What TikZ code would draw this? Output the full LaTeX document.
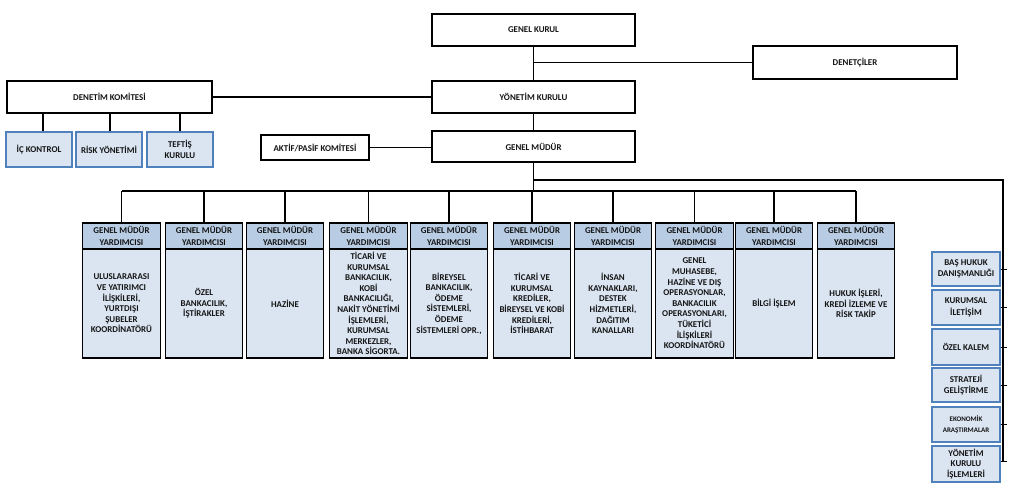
\documentclass[tikz,border=0pt]{standalone}
\usepackage{fontspec}
\setmainfont{Carlito}
\definecolor{hdr}{HTML}{B8CCE4}
\definecolor{bdy}{HTML}{DBE5F1}
\definecolor{bbl}{HTML}{4F81BD}
\definecolor{txt}{HTML}{141414}
\begin{document}
\begin{tikzpicture}[x=1pt,y=-1pt,
  every node/.style={font=\fontsize{8.9}{11.5}\selectfont\bfseries, text=txt, align=center, inner sep=0pt},
  topbox/.style={draw=black, line width=1.2pt, fill=white, minimum width=203pt, minimum height=32pt},
  subbox/.style={draw=bbl, line width=1.1pt, fill=bdy, minimum width=66pt, minimum height=35pt},
  hdrbox/.style={draw=black, line width=1.1pt, fill=hdr, minimum width=77.5pt, minimum height=26pt},
  bdybox/.style={draw=black, line width=1.1pt, fill=bdy, minimum width=77.5pt, minimum height=109pt, font=\fontsize{8.9}{10.6}\selectfont\bfseries},
  rbox/.style={draw=bbl, line width=1.1pt, fill=bdy, minimum width=68pt},
  conn/.style={draw=black, line width=1.2pt}]
\useasboundingbox (0,0) rectangle (1012,493);
% top structure
\node[topbox] (gk) at (533.5,30) {GENEL KURUL};
\node[topbox, minimum width=204pt, minimum height=33pt] (den) at (855,62.5) {DENETÇİLER};
\node[topbox] (yk) at (533.5,97) {YÖNETİM KURULU};
\node[topbox, minimum height=31pt] (gm) at (533.5,146.5) {GENEL MÜDÜR};
\node[topbox, minimum width=205pt] (dk) at (109.5,97) {DENETİM KOMİTESİ};
\node[topbox, minimum width=108pt, minimum height=25pt] (ap) at (315,147.5) {AKTİF/PASİF KOMİTESİ};
\node[subbox] (ik) at (39,149.5) {İÇ KONTROL};
\node[subbox] (ry) at (109,149.5) {RİSK YÖNETİMİ};
\node[subbox] (tk) at (180,149.5) {TEFTİŞ\\KURULU};
\draw[conn] (gk.south) -- (yk.north);
\draw[conn] (den.west) -- (den.west -| gk.south);
\draw[conn] (yk.south) -- (gm.north);
\draw[conn] (dk.east) -- (yk.west);
\draw[conn] (ap.east) -- (ap.east -| gm.west);
\draw[conn] ([xshift=4pt]ik.north) -- ([xshift=4pt]ik.north |- dk.south);
\draw[conn] ([xshift=1pt]ry.north) -- ([xshift=1pt]ry.north |- dk.south);
\draw[conn] (tk.north) -- (tk.north |- dk.south);
% GMY boxes
\foreach \i/\cx/\body in {
 1/121.5/{ULUSLARARASI\\VE YATIRIMCI\\İLİŞKİLERİ,\\YURTDIŞI\\ŞUBELER\\KOORDİNATÖRÜ},
 2/204/{ÖZEL\\BANKACILIK,\\İŞTİRAKLER},
 3/285/{HAZİNE},
 4/368.5/{TİCARİ VE\\KURUMSAL\\BANKACILIK,\\KOBİ\\BANKACILIĞI,\\NAKİT YÖNETİMİ\\İŞLEMLERİ,\\KURUMSAL\\MERKEZLER,\\BANKA SİGORTA.},
 5/449/{BİREYSEL\\BANKACILIK,\\ÖDEME\\SİSTEMLERİ,\\ÖDEME\\SİSTEMLERİ OPR.,},
 6/532/{TİCARİ VE\\KURUMSAL\\KREDİLER,\\BİREYSEL VE KOBİ\\KREDİLERİ,\\İSTİHBARAT},
 7/613/{İNSAN\\KAYNAKLARI,\\DESTEK\\HİZMETLERİ,\\DAĞITIM\\KANALLARI},
 8/694.5/{GENEL\\MUHASEBE,\\HAZİNE VE DIŞ\\OPERASYONLAR,\\BANKACILIK\\OPERASYONLARI,\\TÜKETİCİ\\İLİŞKİLERİ\\KOORDİNATÖRÜ},
 9/774/{BİLGİ İŞLEM},
 10/856/{HUKUK İŞLERİ,\\KREDİ İZLEME VE\\RİSK TAKİP}}{
  \node[hdrbox] (h\i) at (\cx,236) {GENEL MÜDÜR\\YARDIMCISI};
  \node[bdybox] (b\i) at (\cx,303.5) {\body};
}
\coordinate (bus) at (534,191);
\draw[conn] (gm.south) -- (gm.south |- bus);
\draw[conn] (h1.north |- bus) -- (h10.north |- bus);
\foreach \i in {1,...,10}{\draw[conn] (h\i.north) -- (h\i.north |- bus);}
% right column
\node[rbox, minimum height=34pt] (r1) at (966,269) {BAŞ HUKUK\\DANIŞMANLIĞI};
\node[rbox, minimum height=35pt] (r2) at (966,307.5) {KURUMSAL\\İLETİŞİM};
\node[rbox, minimum height=36pt] (r3) at (966,347) {ÖZEL KALEM};
\node[rbox, minimum height=34pt] (r4) at (966,385) {STRATEJİ\\GELİŞTİRME};
\node[rbox, minimum height=35pt, font=\fontsize{7}{11}\selectfont\bfseries] (r5) at (966,424.5) {EKONOMİK\\ARAŞTIRMALAR};
\node[rbox, minimum height=36pt, font=\fontsize{8.9}{10.8}\selectfont\bfseries] (r6) at (966,464) {YÖNETİM\\KURULU\\İŞLEMLERİ};
\coordinate (rtop) at (1003,180);
\coordinate (rend) at (1003,461);
\draw[conn] (gm.south |- rtop) -- (rtop) -- (rend);
\foreach \i in {1,...,5}{\draw[conn, line width=0.8pt] (r\i.east) -- ++(6,0);}
\draw[conn, line width=0.8pt] (r6.east |- rend) -- ++(6,0);
\end{tikzpicture}
\end{document}
